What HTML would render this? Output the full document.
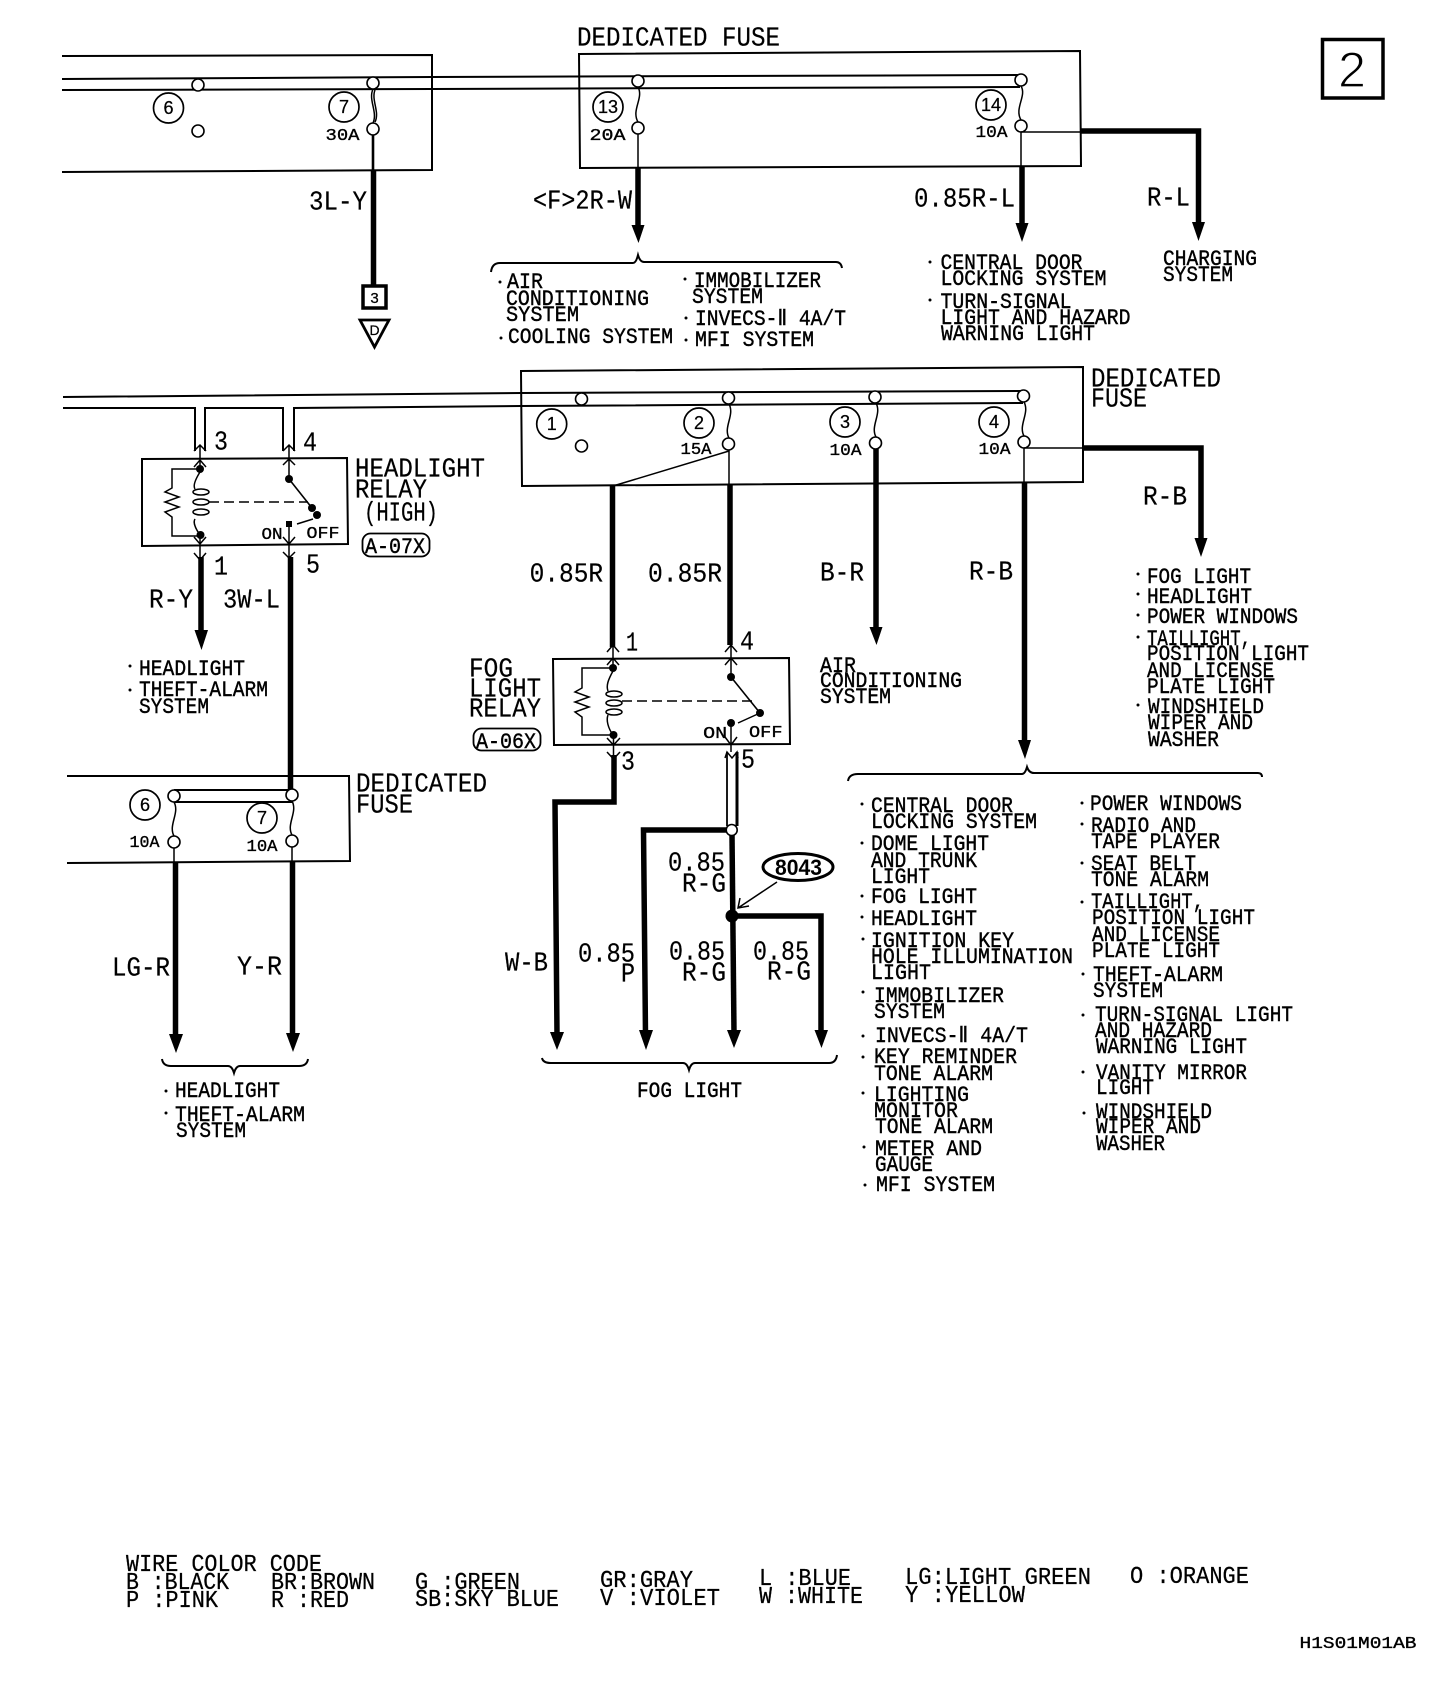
<!DOCTYPE html>
<html><head><meta charset="utf-8"><title>Wiring diagram</title>
<style>
html,body{margin:0;padding:0;background:#fff;width:1456px;height:1682px;overflow:hidden}
svg{display:block}
text{font-family:"Liberation Mono",monospace;fill:#000}
.s{font-size:22px;stroke:#000;stroke-width:.4px;transform:translate(-1px,0)}
.l{font-size:27px;stroke:#000;stroke-width:.2px;transform:translate(-1px,-.5px)}
.c{font-size:24px;stroke:#000;stroke-width:.25px;transform:translate(-1px,0)}
.t{font-size:17px;stroke:#000;stroke-width:.35px;transform:translate(-.5px,-1px)}
.n{font-family:"Liberation Sans",sans-serif;font-size:18px;text-anchor:middle;stroke:#000;stroke-width:.25px}
.w{fill:none;stroke:#000;stroke-width:5.5}
.b{fill:none;stroke:#000;stroke-width:2}
.h{fill:none;stroke:#000;stroke-width:1.5}
.o{fill:#fff;stroke:#000;stroke-width:1.6}
.r{fill:#fff;stroke:#000;stroke-width:1.7}
</style></head><body>
<svg xmlns="http://www.w3.org/2000/svg" width="1456" height="1682" viewBox="0 0 1456 1682">
<rect width="1456" height="1682" fill="#fff"/>

<!-- top boxes -->
<path class="b" d="M62,56 L432,55 L432,170 L62,172"/>
<path class="b" d="M579,54 L1080,51 L1081,166 L580,168 Z"/>
<path d="M62,79 L432,77 L1020,75 M62,90 L432,89 L1020,87" fill="none" stroke="#000" stroke-width="2"/>
<circle class="o" cx="198" cy="85" r="6"/><circle class="o" cx="373" cy="83" r="6"/><circle class="o" cx="638" cy="81" r="6"/><circle class="o" cx="1021" cy="80" r="6"/>
<circle class="o" cx="198" cy="131" r="6"/><circle class="o" cx="373" cy="129" r="6"/><circle class="o" cx="638" cy="128" r="6"/><circle class="o" cx="1021" cy="126" r="6"/>
<path class="h" d="M373,89 C368,100 378,112 373,123 M375,90 C371,100 380,112 375,122"/>
<path class="h" d="M638,87 C644,98 631,110 638,122"/>
<path class="h" d="M1021,86 C1027,96 1014,108 1021,120"/>
<circle class="r" cx="168.500" cy="108" r="15"/><text class="n" x="168.500" y="114">6</text>
<circle class="r" cx="344" cy="107" r="15"/><text class="n" x="344" y="113">7</text>
<circle class="r" cx="608" cy="107" r="15"/><text class="n" x="608" y="113">13</text>
<circle class="r" cx="991" cy="105" r="15"/><text class="n" x="991" y="111">14</text>
<text class="t" x="326" y="141" textLength="34" lengthAdjust="spacingAndGlyphs">30A</text>
<text class="t" x="590" y="141" textLength="36" lengthAdjust="spacingAndGlyphs">20A</text>
<text class="t" x="976" y="138" textLength="32" lengthAdjust="spacingAndGlyphs">10A</text>
<path d="M373,135 V170" fill="none" stroke="#000" stroke-width="2.600"/>
<path class="h" d="M638,134 V168 M1021,132 V166 M1021,132 H1080"/>
<path class="w" d="M373.500,170 V285"/>
<path class="w" d="M638,168 V228"/><polygon points="631.500,225 644.500,225 638.500,243"/>
<path class="w" d="M1022,166 V226"/><polygon points="1015.500,223 1028.500,223 1022,242"/>
<path class="w" d="M1080,131 H1198.500 V226"/><polygon points="1192,222 1205,222 1198.500,241"/>
<rect x="363" y="286" width="23" height="22" fill="#fff" stroke="#000" stroke-width="3.500"/><text class="n" x="374.500" y="303" style="font-size:15px">3</text>
<polygon points="360,320 389,320 374.500,347" fill="#fff" stroke="#000" stroke-width="2.800"/><text class="n" x="374.500" y="335" style="font-size:14px">D</text>

<text class="l" x="578" y="46" textLength="203" lengthAdjust="spacingAndGlyphs">DEDICATED FUSE</text>
<text class="l" x="310" y="210" textLength="58" lengthAdjust="spacingAndGlyphs">3L-Y</text>
<text class="l" x="534" y="209" textLength="99" lengthAdjust="spacingAndGlyphs">&lt;F&gt;2R-W</text>
<text class="l" x="915" y="207" textLength="101" lengthAdjust="spacingAndGlyphs">0.85R-L</text>
<text class="l" x="1148" y="206" textLength="43" lengthAdjust="spacingAndGlyphs">R-L</text>

<path class="b" d="M491,272 Q492,263 500,263 H633 Q636,263 638,255 Q640,262 644,262 H836 Q841,262 842,268"/>
<circle cx="500" cy="282" r="1.500"/>
<text class="s" x="508" y="288" textLength="36" lengthAdjust="spacingAndGlyphs">AIR</text>
<text class="s" x="507" y="305" textLength="143" lengthAdjust="spacingAndGlyphs">CONDITIONING</text>
<text class="s" x="507" y="321" textLength="73" lengthAdjust="spacingAndGlyphs">SYSTEM</text>
<circle cx="501" cy="338" r="1.500"/>
<text class="s" x="509" y="343" textLength="165" lengthAdjust="spacingAndGlyphs">COOLING SYSTEM</text>
<circle cx="685" cy="279" r="1.500"/>
<text class="s" x="695" y="287" textLength="127" lengthAdjust="spacingAndGlyphs">IMMOBILIZER</text>
<text class="s" x="693" y="303" textLength="71" lengthAdjust="spacingAndGlyphs">SYSTEM</text>
<circle cx="686" cy="318" r="1.500"/>
<text class="s" x="696" y="325" textLength="151" lengthAdjust="spacingAndGlyphs">INVECS-Ⅱ 4A/T</text>
<circle cx="686" cy="340" r="1.500"/>
<text class="s" x="696" y="346" textLength="119" lengthAdjust="spacingAndGlyphs">MFI SYSTEM</text>

<circle cx="930" cy="262" r="1.500"/>
<text class="s" x="941.500" y="269" textLength="142" lengthAdjust="spacingAndGlyphs">CENTRAL DOOR</text>
<text class="s" x="941.500" y="285" textLength="166" lengthAdjust="spacingAndGlyphs">LOCKING SYSTEM</text>
<circle cx="930" cy="300" r="1.500"/>
<text class="s" x="941.500" y="308" textLength="131" lengthAdjust="spacingAndGlyphs">TURN-SIGNAL</text>
<text class="s" x="941.500" y="324" textLength="190" lengthAdjust="spacingAndGlyphs">LIGHT AND HAZARD</text>
<text class="s" x="942" y="340" textLength="154" lengthAdjust="spacingAndGlyphs">WARNING LIGHT</text>
<text class="s" x="1164" y="265" textLength="94" lengthAdjust="spacingAndGlyphs">CHARGING</text>
<text class="s" x="1164" y="281" textLength="70" lengthAdjust="spacingAndGlyphs">SYSTEM</text>

<rect x="1322.500" y="39.500" width="60.500" height="58.500" fill="none" stroke="#000" stroke-width="3.500"/>
<text x="1338" y="87" textLength="28" lengthAdjust="spacingAndGlyphs" style="font-family:'Liberation Sans',sans-serif;font-size:50px;stroke:#fff;stroke-width:1.200px">2</text>

<!-- middle bus -->
<path class="b" d="M521,371 L1083,367 L1083,482 L522,486 Z"/>
<path d="M63,397 L521,393 L1023,391" fill="none" stroke="#000" stroke-width="2"/>
<path d="M63,408 H195 V451 M205,451 V408 H283 V451 M294,451 V408 L521,406 L1023,403" fill="none" stroke="#000" stroke-width="2"/>
<circle class="o" cx="581.500" cy="399" r="6"/><circle class="o" cx="728.500" cy="398" r="6"/><circle class="o" cx="875" cy="397" r="6"/><circle class="o" cx="1023.500" cy="396" r="6"/>
<circle class="o" cx="581.500" cy="446" r="6"/><circle class="o" cx="728.500" cy="444" r="6"/><circle class="o" cx="875.500" cy="443" r="6"/><circle class="o" cx="1024" cy="442" r="6"/>
<path class="h" d="M729,404 C735,415 723,427 729,438 M876,403 C882,414 870,426 876,437 M1024,402 C1030,413 1018,425 1024,436"/>
<circle class="r" cx="551.700" cy="424" r="15"/><text class="n" x="551.700" y="430">1</text>
<circle class="r" cx="699" cy="423" r="15"/><text class="n" x="699" y="429">2</text>
<circle class="r" cx="845" cy="422" r="15"/><text class="n" x="845" y="428">3</text>
<circle class="r" cx="994" cy="422" r="15"/><text class="n" x="994" y="428">4</text>
<text class="t" x="681" y="455" textLength="31" lengthAdjust="spacingAndGlyphs">15A</text>
<text class="t" x="830" y="456" textLength="32" lengthAdjust="spacingAndGlyphs">10A</text>
<text class="t" x="979" y="455" textLength="32" lengthAdjust="spacingAndGlyphs">10A</text>
<path class="h" d="M729,450 V485 M729,451 L613,486 M1024,448 V483 M1024,448 H1083"/>
<path class="w" d="M612.500,486 V647 M730,484 V645"/>
<path class="w" d="M876,449 V630"/><polygon points="869.500,627 882.500,627 876.500,645"/>
<path class="w" d="M1024.500,483 V743"/><polygon points="1018,740 1031,740 1025,759"/>
<path class="w" d="M1083,448 H1201 V541"/><polygon points="1194.500,538 1207.500,538 1201,557"/>

<text class="l" x="1092" y="387" textLength="130" lengthAdjust="spacingAndGlyphs">DEDICATED</text>
<text class="l" x="1092" y="407" textLength="56" lengthAdjust="spacingAndGlyphs">FUSE</text>
<text class="l" x="530.600" y="582" textLength="73.500" lengthAdjust="spacingAndGlyphs">0.85R</text>
<text class="l" x="649" y="582" textLength="74" lengthAdjust="spacingAndGlyphs">0.85R</text>
<text class="l" x="821" y="581" textLength="44" lengthAdjust="spacingAndGlyphs">B-R</text>
<text class="l" x="970" y="580" textLength="44" lengthAdjust="spacingAndGlyphs">R-B</text>
<text class="l" x="1144" y="505" textLength="44" lengthAdjust="spacingAndGlyphs">R-B</text>

<!-- headlight relay -->
<path class="b" d="M142,459 L347,458 L348,544 L142,546 Z"/>
<path class="h" d="M194,451 L200,445 L206,451 M283,451 L289,445 L295,451 M194,467 L200,460 L206,467 M283,465 L289,459 L295,465 M200,445 V470 M289,445 V479"/>
<circle cx="200" cy="469" r="4"/><circle cx="200.500" cy="535" r="4"/>
<path class="h" d="M200,469 H172 V488 L165,492 L179,497 L165,502 L179,507 L165,512 L172,517 V536 H200"/>
<path class="h" d="M200,472 C195,480 193,486 195,489 M200,535 C195,528 193,522 195,519"/>
<ellipse class="h" cx="201" cy="492" rx="8" ry="3"/><ellipse class="h" cx="201" cy="502" rx="8" ry="3"/><ellipse class="h" cx="201" cy="512" rx="8" ry="3"/>
<path class="h" d="M200,535 V558 M194,537 L200,544 L206,537 M194,553 L200,560 L206,553"/>
<path d="M209,502 H308" fill="none" stroke="#000" stroke-width="1.500" stroke-dasharray="10 5"/>
<circle cx="289" cy="479" r="4"/><circle cx="312" cy="508" r="4"/><circle cx="317" cy="515" r="4"/>
<path d="M289,479 L312,508" fill="none" stroke="#000" stroke-width="1.600"/>
<path class="h" d="M313,519 L297,524"/>
<rect x="286" y="521" width="6" height="6"/>
<path class="h" d="M289,524 V557 M283,537 L289,544 L295,537 M283,552 L289,558 L295,552"/>
<path class="w" d="M201,557 V635"/><polygon points="194.500,630 208,630 201.500,650"/>
<path class="w" d="M290.500,557 V790"/>

<text class="l" x="215" y="450" textLength="14" lengthAdjust="spacingAndGlyphs">3</text>
<text class="l" x="304" y="451" textLength="14" lengthAdjust="spacingAndGlyphs">4</text>
<text class="t" x="262" y="540" textLength="21" lengthAdjust="spacingAndGlyphs">ON</text>
<text class="t" x="307" y="539" textLength="33" lengthAdjust="spacingAndGlyphs">OFF</text>
<text class="l" x="356" y="477" textLength="130" lengthAdjust="spacingAndGlyphs">HEADLIGHT</text>
<text class="l" x="356" y="498" textLength="72" lengthAdjust="spacingAndGlyphs">RELAY</text>
<text class="l" x="365" y="521" textLength="74" lengthAdjust="spacingAndGlyphs">(HIGH)</text>
<rect x="362.500" y="533.500" width="67" height="23" rx="8" fill="none" stroke="#000" stroke-width="1.800"/>
<text class="s" x="366" y="553" textLength="60" lengthAdjust="spacingAndGlyphs">A-07X</text>
<text class="l" x="215" y="575" textLength="14" lengthAdjust="spacingAndGlyphs">1</text>
<text class="l" x="307" y="573" textLength="14" lengthAdjust="spacingAndGlyphs">5</text>
<text class="l" x="150" y="608" textLength="44" lengthAdjust="spacingAndGlyphs">R-Y</text>
<text class="l" x="224" y="608" textLength="57" lengthAdjust="spacingAndGlyphs">3W-L</text>
<circle cx="130" cy="666" r="1.500"/>
<text class="s" x="140" y="675" textLength="106" lengthAdjust="spacingAndGlyphs">HEADLIGHT</text>
<circle cx="130" cy="690" r="1.500"/>
<text class="s" x="140" y="696" textLength="129" lengthAdjust="spacingAndGlyphs">THEFT-ALARM</text>
<text class="s" x="140" y="713" textLength="70" lengthAdjust="spacingAndGlyphs">SYSTEM</text>

<!-- lower-left fuse -->
<path class="b" d="M67,776 H349 L350,861 L67,863"/>
<path d="M174,790 H292 M174,802 H292" fill="none" stroke="#000" stroke-width="2"/>
<circle class="o" cx="174" cy="796" r="6"/><circle class="o" cx="292" cy="795" r="6"/><circle class="o" cx="174" cy="842" r="6"/><circle class="o" cx="292" cy="841" r="6"/>
<path class="h" d="M174,802 C180,813 168,825 174,836 M292,801 C298,812 286,824 292,835"/>
<circle class="r" cx="145" cy="805" r="15"/><text class="n" x="145" y="811">6</text>
<circle class="r" cx="262" cy="818" r="15"/><text class="n" x="262" y="824">7</text>
<text class="t" x="130" y="848" textLength="30" lengthAdjust="spacingAndGlyphs">10A</text>
<text class="t" x="247" y="852" textLength="31" lengthAdjust="spacingAndGlyphs">10A</text>
<path class="h" d="M174,848 V862 M292,847 V861"/>
<path class="w" d="M175.500,862 V1038"/><polygon points="169,1034 183,1034 176,1053"/>
<path class="w" d="M292.500,861 V1037"/><polygon points="286,1033 300,1033 293,1052"/>
<text class="l" x="357" y="792" textLength="131" lengthAdjust="spacingAndGlyphs">DEDICATED</text>
<text class="l" x="357" y="813" textLength="57" lengthAdjust="spacingAndGlyphs">FUSE</text>
<text class="l" x="113" y="976" textLength="58" lengthAdjust="spacingAndGlyphs">LG-R</text>
<text class="l" x="238" y="975" textLength="45" lengthAdjust="spacingAndGlyphs">Y-R</text>
<path class="b" d="M162,1059 Q163,1066 171,1066 H228 Q232,1066 234,1073 Q236,1066 240,1066 H299 Q307,1066 308,1059"/>
<circle cx="166" cy="1091" r="1.500"/>
<text class="s" x="176" y="1097" textLength="105" lengthAdjust="spacingAndGlyphs">HEADLIGHT</text>
<circle cx="166" cy="1113" r="1.500"/>
<text class="s" x="176" y="1121" textLength="130" lengthAdjust="spacingAndGlyphs">THEFT-ALARM</text>
<text class="s" x="177" y="1137" textLength="70" lengthAdjust="spacingAndGlyphs">SYSTEM</text>

<!-- fog relay -->
<path class="b" d="M553,659 L789,658 L790,744 L554,745 Z"/>
<path class="h" d="M607,652 L613,645 L619,652 M725,652 L731,645 L737,652 M607,665 L613,658 L619,665 M725,665 L731,658 L737,665 M613,645 V668 M731,645 V677"/>
<circle cx="613" cy="668" r="4"/><circle cx="613.500" cy="735" r="4"/>
<path class="h" d="M613,668 H582 V688 L575,692 L589,697 L575,702 L589,707 L575,712 L582,717 V735 H613"/>
<path class="h" d="M613,671 C608,680 606,686 608,691 M613,735 C608,728 606,720 608,715"/>
<ellipse class="h" cx="614" cy="694" rx="8" ry="3"/><ellipse class="h" cx="614" cy="703" rx="8" ry="3"/><ellipse class="h" cx="614" cy="712" rx="8" ry="3"/>
<path class="h" d="M613.500,735 V756 M607,738 L613.500,745 L620,738 M607,752 L613.500,759 L620,752"/>
<path d="M622,701 H755" fill="none" stroke="#000" stroke-width="1.500" stroke-dasharray="10 5"/>
<circle cx="731" cy="677" r="4"/><circle cx="760" cy="713" r="4"/>
<path d="M731,677 L760,713" fill="none" stroke="#000" stroke-width="1.600"/>
<path class="h" d="M760,713 L738,723"/>
<circle cx="731" cy="723" r="4"/>
<path class="h" d="M731,723 V752 M725,737 L731,745 L737,737 M725,758 L727,752 L732,758 L737,752 L738,758"/>
<text class="t" x="703.600" y="739" textLength="24" lengthAdjust="spacingAndGlyphs">ON</text>
<text class="t" x="749.500" y="738" textLength="33.500" lengthAdjust="spacingAndGlyphs">OFF</text>
<text class="l" x="627" y="651" textLength="12" lengthAdjust="spacingAndGlyphs">1</text>
<text class="l" x="741" y="650" textLength="14" lengthAdjust="spacingAndGlyphs">4</text>
<text class="l" x="622" y="770" textLength="14" lengthAdjust="spacingAndGlyphs">3</text>
<text class="l" x="742" y="768" textLength="14" lengthAdjust="spacingAndGlyphs">5</text>
<text class="l" x="470" y="677" textLength="44" lengthAdjust="spacingAndGlyphs">FOG</text>
<text class="l" x="470" y="697" textLength="72" lengthAdjust="spacingAndGlyphs">LIGHT</text>
<text class="l" x="470" y="717" textLength="72" lengthAdjust="spacingAndGlyphs">RELAY</text>
<rect x="473.500" y="728.500" width="67" height="22" rx="8" fill="none" stroke="#000" stroke-width="1.800"/>
<text class="s" x="477" y="748" textLength="60" lengthAdjust="spacingAndGlyphs">A-06X</text>
<text class="s" x="821" y="672" textLength="36" lengthAdjust="spacingAndGlyphs">AIR</text>
<text class="s" x="821" y="687" textLength="142" lengthAdjust="spacingAndGlyphs">CONDITIONING</text>
<text class="s" x="821" y="703" textLength="71" lengthAdjust="spacingAndGlyphs">SYSTEM</text>

<!-- below fog relay -->
<path class="w" d="M614,755 V802 H555 L557,1035"/><polygon points="550,1032 564,1032 557,1050"/>
<path class="h" d="M727,752 V826" style="stroke-width:1.800"/>
<path class="w" d="M737,752 V826" style="stroke-width:3"/>
<path class="w" d="M732,830 H643.500 L645.500,1035"/><polygon points="639,1030 653,1030 646,1050"/>
<path class="w" d="M732,835 L734,1033"/><polygon points="727,1030 741,1030 734,1048"/>
<path class="w" d="M732,916 H821 V1033"/><polygon points="814.500,1030 828,1030 821.500,1048"/>
<circle class="o" cx="731.700" cy="830" r="5.500"/>
<circle cx="732" cy="916" r="6.500"/>
<ellipse cx="798" cy="867" rx="35" ry="13.500" fill="#fff" stroke="#000" stroke-width="3"/>
<text x="775" y="875" textLength="47" lengthAdjust="spacingAndGlyphs" style="font-family:'Liberation Sans',sans-serif;font-weight:bold;font-size:22px">8043</text>
<path class="h" d="M777,882 L738,908 M740,898 L738,908 L749,906"/>
<text class="l" x="669" y="871" textLength="57" lengthAdjust="spacingAndGlyphs">0.85</text>
<text class="l" x="683" y="892" textLength="44" lengthAdjust="spacingAndGlyphs">R-G</text>
<text class="l" x="506" y="971" textLength="43" lengthAdjust="spacingAndGlyphs">W-B</text>
<text class="l" x="579" y="962" textLength="57" lengthAdjust="spacingAndGlyphs">0.85</text>
<text class="l" x="622" y="982" textLength="14" lengthAdjust="spacingAndGlyphs">P</text>
<text class="l" x="670" y="960" textLength="56" lengthAdjust="spacingAndGlyphs">0.85</text>
<text class="l" x="683" y="981" textLength="44" lengthAdjust="spacingAndGlyphs">R-G</text>
<text class="l" x="754" y="960" textLength="56" lengthAdjust="spacingAndGlyphs">0.85</text>
<text class="l" x="768" y="980" textLength="44" lengthAdjust="spacingAndGlyphs">R-G</text>
<path class="b" d="M542,1058 Q543,1063 551,1063 H683 Q687,1063 689,1070 Q691,1063 695,1063 H829 Q836,1063 837,1055"/>
<text class="s" x="638" y="1097" textLength="105" lengthAdjust="spacingAndGlyphs">FOG LIGHT</text>

<!-- right list -->
<circle cx="1138" cy="574" r="1.500"/><text class="s" x="1148" y="583" textLength="104" lengthAdjust="spacingAndGlyphs">FOG LIGHT</text>
<circle cx="1138" cy="594" r="1.500"/><text class="s" x="1148" y="603" textLength="105" lengthAdjust="spacingAndGlyphs">HEADLIGHT</text>
<circle cx="1138" cy="615" r="1.500"/><text class="s" x="1148" y="623" textLength="151" lengthAdjust="spacingAndGlyphs">POWER WINDOWS</text>
<circle cx="1138" cy="637" r="1.500"/><text class="s" x="1148" y="645" textLength="104" lengthAdjust="spacingAndGlyphs">TAILLIGHT,</text>
<text class="s" x="1148" y="660" textLength="162" lengthAdjust="spacingAndGlyphs">POSITION LIGHT</text>
<text class="s" x="1148" y="677" textLength="127" lengthAdjust="spacingAndGlyphs">AND LICENSE</text>
<text class="s" x="1148" y="693" textLength="128" lengthAdjust="spacingAndGlyphs">PLATE LIGHT</text>
<circle cx="1138" cy="705" r="1.500"/><text class="s" x="1149" y="713" textLength="116" lengthAdjust="spacingAndGlyphs">WINDSHIELD</text>
<text class="s" x="1149" y="729" textLength="105" lengthAdjust="spacingAndGlyphs">WIPER AND</text>
<text class="s" x="1149" y="746" textLength="71" lengthAdjust="spacingAndGlyphs">WASHER</text>

<!-- big brace -->
<path class="b" d="M848,781 Q849,774 858,774 H1022 Q1025,774 1027,767 Q1029,773 1034,773 H1258 Q1262,773 1262,777"/>

<circle cx="862" cy="804" r="1.500"/><text class="s" x="872" y="812" textLength="142" lengthAdjust="spacingAndGlyphs">CENTRAL DOOR</text>
<text class="s" x="872" y="828" textLength="166" lengthAdjust="spacingAndGlyphs">LOCKING SYSTEM</text>
<circle cx="862" cy="843" r="1.500"/><text class="s" x="872" y="850" textLength="118" lengthAdjust="spacingAndGlyphs">DOME LIGHT</text>
<text class="s" x="872" y="867" textLength="106" lengthAdjust="spacingAndGlyphs">AND TRUNK</text>
<text class="s" x="872" y="883" textLength="59" lengthAdjust="spacingAndGlyphs">LIGHT</text>
<circle cx="862" cy="896" r="1.500"/><text class="s" x="872" y="903" textLength="106" lengthAdjust="spacingAndGlyphs">FOG LIGHT</text>
<circle cx="862" cy="917" r="1.500"/><text class="s" x="872" y="925" textLength="106" lengthAdjust="spacingAndGlyphs">HEADLIGHT</text>
<circle cx="863" cy="939" r="1.500"/><text class="s" x="872" y="947" textLength="143" lengthAdjust="spacingAndGlyphs">IGNITION KEY</text>
<text class="s" x="872" y="963" textLength="202" lengthAdjust="spacingAndGlyphs">HOLE ILLUMINATION</text>
<text class="s" x="872" y="979" textLength="60" lengthAdjust="spacingAndGlyphs">LIGHT</text>
<circle cx="863" cy="992" r="1.500"/><text class="s" x="875" y="1002" textLength="130" lengthAdjust="spacingAndGlyphs">IMMOBILIZER</text>
<text class="s" x="875" y="1018" textLength="71" lengthAdjust="spacingAndGlyphs">SYSTEM</text>
<circle cx="863" cy="1036" r="1.500"/><text class="s" x="876" y="1042" textLength="153" lengthAdjust="spacingAndGlyphs">INVECS-Ⅱ 4A/T</text>
<circle cx="863" cy="1057" r="1.500"/><text class="s" x="875" y="1063" textLength="143" lengthAdjust="spacingAndGlyphs">KEY REMINDER</text>
<text class="s" x="875" y="1080" textLength="119" lengthAdjust="spacingAndGlyphs">TONE ALARM</text>
<circle cx="863" cy="1093" r="1.500"/><text class="s" x="875" y="1101" textLength="95" lengthAdjust="spacingAndGlyphs">LIGHTING</text>
<text class="s" x="875" y="1117" textLength="84" lengthAdjust="spacingAndGlyphs">MONITOR</text>
<text class="s" x="876" y="1133" textLength="118" lengthAdjust="spacingAndGlyphs">TONE ALARM</text>
<circle cx="864" cy="1147" r="1.500"/><text class="s" x="876" y="1155" textLength="107" lengthAdjust="spacingAndGlyphs">METER AND</text>
<text class="s" x="876" y="1171" textLength="58" lengthAdjust="spacingAndGlyphs">GAUGE</text>
<circle cx="865" cy="1185" r="1.500"/><text class="s" x="877" y="1191" textLength="119" lengthAdjust="spacingAndGlyphs">MFI SYSTEM</text>

<circle cx="1082" cy="803" r="1.500"/><text class="s" x="1091" y="810" textLength="152" lengthAdjust="spacingAndGlyphs">POWER WINDOWS</text>
<circle cx="1082" cy="824" r="1.500"/><text class="s" x="1092" y="832" textLength="105" lengthAdjust="spacingAndGlyphs">RADIO AND</text>
<text class="s" x="1092" y="848" textLength="129" lengthAdjust="spacingAndGlyphs">TAPE PLAYER</text>
<circle cx="1082" cy="863" r="1.500"/><text class="s" x="1092" y="870" textLength="105" lengthAdjust="spacingAndGlyphs">SEAT BELT</text>
<text class="s" x="1092" y="886" textLength="118" lengthAdjust="spacingAndGlyphs">TONE ALARM</text>
<circle cx="1082" cy="902" r="1.500"/><text class="s" x="1092" y="908" textLength="113" lengthAdjust="spacingAndGlyphs">TAILLIGHT,</text>
<text class="s" x="1093" y="924" textLength="163" lengthAdjust="spacingAndGlyphs">POSITION LIGHT</text>
<text class="s" x="1093" y="941" textLength="128" lengthAdjust="spacingAndGlyphs">AND LICENSE</text>
<text class="s" x="1093" y="957" textLength="128" lengthAdjust="spacingAndGlyphs">PLATE LIGHT</text>
<circle cx="1083" cy="974" r="1.500"/><text class="s" x="1094" y="981" textLength="130" lengthAdjust="spacingAndGlyphs">THEFT-ALARM</text>
<text class="s" x="1094" y="997" textLength="70" lengthAdjust="spacingAndGlyphs">SYSTEM</text>
<circle cx="1083" cy="1015" r="1.500"/><text class="s" x="1096" y="1021" textLength="198" lengthAdjust="spacingAndGlyphs">TURN-SIGNAL LIGHT</text>
<text class="s" x="1096" y="1037" textLength="117" lengthAdjust="spacingAndGlyphs">AND HAZARD</text>
<text class="s" x="1097" y="1053" textLength="151" lengthAdjust="spacingAndGlyphs">WARNING LIGHT</text>
<circle cx="1083" cy="1072" r="1.500"/><text class="s" x="1097" y="1079" textLength="151" lengthAdjust="spacingAndGlyphs">VANITY MIRROR</text>
<text class="s" x="1097" y="1094" textLength="58" lengthAdjust="spacingAndGlyphs">LIGHT</text>
<circle cx="1084" cy="1113" r="1.500"/><text class="s" x="1097" y="1118" textLength="116" lengthAdjust="spacingAndGlyphs">WINDSHIELD</text>
<text class="s" x="1097" y="1133" textLength="105" lengthAdjust="spacingAndGlyphs">WIPER AND</text>
<text class="s" x="1097" y="1150" textLength="69" lengthAdjust="spacingAndGlyphs">WASHER</text>

<!-- legend -->
<text class="c" x="127" y="1571" textLength="196" lengthAdjust="spacingAndGlyphs">WIRE COLOR CODE</text>
<text class="c" x="127" y="1589" textLength="103" lengthAdjust="spacingAndGlyphs">B :BLACK</text>
<text class="c" x="272" y="1589" textLength="104" lengthAdjust="spacingAndGlyphs">BR:BROWN</text>
<text class="c" x="416" y="1589" textLength="105" lengthAdjust="spacingAndGlyphs">G :GREEN</text>
<text class="c" x="601" y="1587" textLength="93" lengthAdjust="spacingAndGlyphs">GR:GRAY</text>
<text class="c" x="760" y="1585" textLength="92" lengthAdjust="spacingAndGlyphs">L :BLUE</text>
<text class="c" x="906" y="1584" textLength="186" lengthAdjust="spacingAndGlyphs">LG:LIGHT GREEN</text>
<text class="c" x="1131" y="1583" textLength="119" lengthAdjust="spacingAndGlyphs">O :ORANGE</text>
<text class="c" x="127" y="1607" textLength="92" lengthAdjust="spacingAndGlyphs">P :PINK</text>
<text class="c" x="272" y="1607" textLength="78" lengthAdjust="spacingAndGlyphs">R :RED</text>
<text class="c" x="416" y="1606" textLength="144" lengthAdjust="spacingAndGlyphs">SB:SKY BLUE</text>
<text class="c" x="601" y="1605" textLength="120" lengthAdjust="spacingAndGlyphs">V :VIOLET</text>
<text class="c" x="760" y="1603" textLength="104" lengthAdjust="spacingAndGlyphs">W :WHITE</text>
<text class="c" x="906" y="1602" textLength="120" lengthAdjust="spacingAndGlyphs">Y :YELLOW</text>
<text class="t" x="1300" y="1649" textLength="117" lengthAdjust="spacingAndGlyphs">H1S01M01AB</text>
</svg>
</body></html>
